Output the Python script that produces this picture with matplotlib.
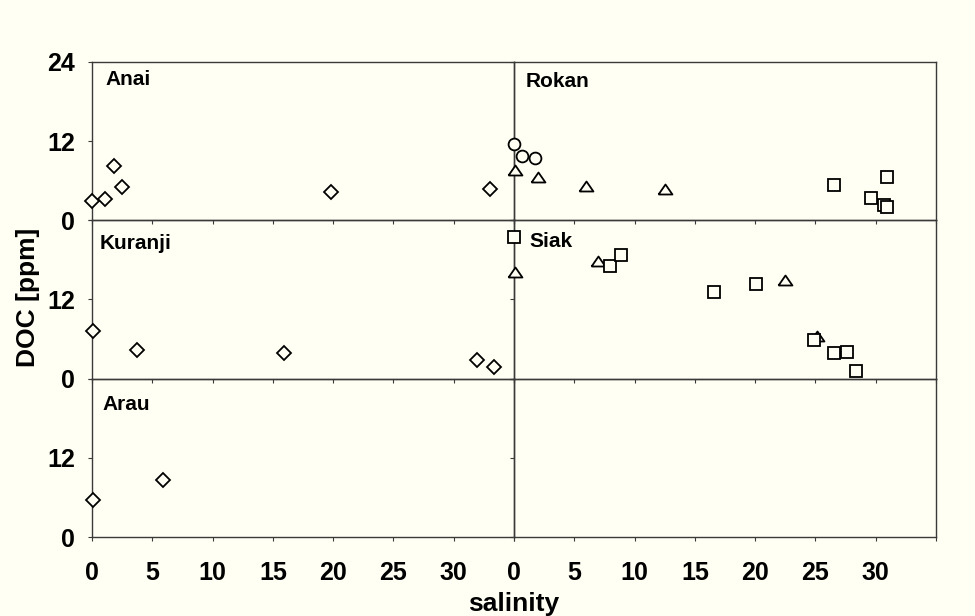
import matplotlib.pyplot as plt
import numpy as np

plt.rcParams['font.family'] = ['Liberation Sans', 'DejaVu Sans']
plt.rcParams['font.weight'] = 'bold'

bg = '#FFFFF3'
edge = '#3a3a3a'

# Anai (diamonds)
anai_sal = [0.0, 1.1, 1.8, 2.5, 19.8, 33.0]
anai_doc = [2.9, 3.3, 8.3, 5.0, 4.3, 4.8]

# Rokan: circles, triangles, squares
rokan_c_sal = [0.0, 0.65, 1.75]
rokan_c_doc = [11.5, 9.7, 9.4]
rokan_t_sal = [0.1, 2.0, 6.0, 12.5]
rokan_t_doc = [7.7, 6.6, 5.2, 4.8]
rokan_s_sal = [26.5, 29.6, 30.9, 30.7, 30.9]
rokan_s_doc = [5.3, 3.45, 6.6, 2.3, 2.0]

# Kuranji (diamonds)
kuranji_sal = [0.05, 3.75, 15.9, 31.9, 33.3]
kuranji_doc = [7.3, 4.35, 3.85, 2.9, 1.75]

# Siak: squares, triangles
siak_s_sal = [0.0, 8.0, 8.9, 16.6, 20.05, 24.9, 26.5, 27.6, 28.4]
siak_s_doc = [21.5, 17.1, 18.7, 13.1, 14.4, 5.8, 3.9, 4.0, 1.2]
siak_t_sal = [0.1, 6.95, 22.5, 25.1]
siak_t_doc = [16.1, 17.8, 14.9, 6.5]

# Arau (diamonds)
arau_sal = [0.05, 5.9]
arau_doc = [5.6, 8.6]

xticks = np.arange(0, 36, 5)
yticks = [0, 12, 24]

tri = [(-1, -0.72), (1, -0.72), (0, 0.72), (-1, -0.72)]
mk = dict(linestyle='none', markerfacecolor=bg, markeredgecolor='black',
          markeredgewidth=1.3, clip_on=False, zorder=5)

fig = plt.figure(figsize=(9.75, 6.16), dpi=100, facecolor=bg)
gs = fig.add_gridspec(3, 2, left=0.0944, right=0.96, top=0.8994, bottom=0.1282,
                      hspace=0, wspace=0)
axes = [[fig.add_subplot(gs[r, c]) for c in range(2)] for r in range(3)]

for r in range(3):
    for c in range(2):
        ax = axes[r][c]
        ax.patch.set_visible(False)
        ax.set_xlim(0, 35)
        ax.set_ylim(0, 24)
        ax.set_xticks(xticks)
        ax.set_yticks(yticks)
        for s in ax.spines.values():
            s.set_color(edge)
            s.set_linewidth(1.0)
        ax.tick_params(direction='out', length=3, width=0.8, color=edge,
                       labelsize=18, pad=9)
        ax.tick_params(axis='x', pad=14)
        if r == 2:
            ax.set_xticklabels([str(v) for v in xticks[:-1]] + [''], fontweight='bold')
        else:
            ax.set_xticklabels([])
        if c == 0:
            lab = ['0', '12', '24'] if r == 0 else ['0', '12', '']
            ax.set_yticklabels(lab, fontweight='bold')
        else:
            ax.set_yticklabels([])

ax = axes[0][0]
ax.plot(anai_sal, anai_doc, marker='D', markersize=7.5, **mk)
ax.text(0.031, 0.95, 'Anai', transform=ax.transAxes, fontsize=15, va='top')

ax = axes[0][1]
ax.plot(rokan_c_sal, rokan_c_doc, marker='o', markersize=8.5, **mk)
ax.plot(rokan_t_sal, rokan_t_doc, marker=tri, markersize=10, **mk)
ax.plot(rokan_s_sal, rokan_s_doc, marker='s', markersize=8.5, **mk)
ax.text(0.028, 0.935, 'Rokan', transform=ax.transAxes, fontsize=15, va='top')

ax = axes[1][0]
ax.plot(kuranji_sal, kuranji_doc, marker='D', markersize=7.5, **mk)
ax.text(0.019, 0.915, 'Kuranji', transform=ax.transAxes, fontsize=15, va='top')

ax = axes[1][1]
ax.plot(siak_t_sal, siak_t_doc, marker=tri, markersize=10, **mk)
ax.plot(siak_s_sal, siak_s_doc, marker='s', markersize=8.5, **mk)
ax.text(0.036, 0.925, 'Siak', transform=ax.transAxes, fontsize=15, va='top')

ax = axes[2][0]
ax.plot(arau_sal, arau_doc, marker='D', markersize=7.5, **mk)
ax.text(0.024, 0.895, 'Arau', transform=ax.transAxes, fontsize=15, va='top')

fig.text(0.029, 1 - 297 / 616, 'DOC [ppm]', rotation=90, ha='center', va='center', fontsize=19)
fig.text(0.527, 1 - 611 / 616, 'salinity', ha='center', va='baseline', fontsize=19)

fig.savefig('out.png', dpi=100, facecolor=bg)
